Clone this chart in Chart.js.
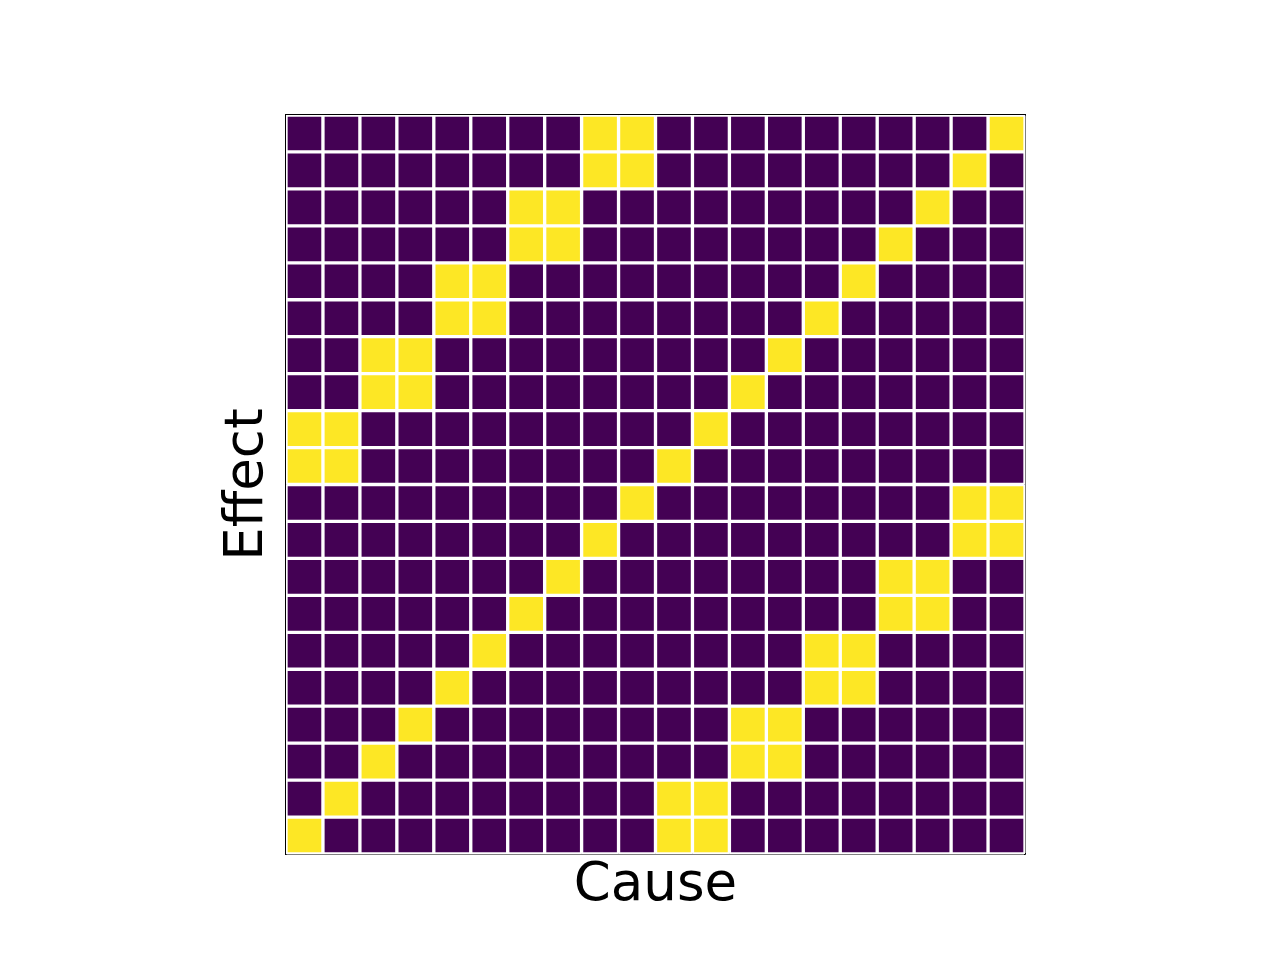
<!DOCTYPE html>
<html>
<head>
<meta charset="utf-8">
<title>Cause / Effect matrix</title>
<script src="https://cdn.jsdelivr.net/npm/chart.js@4/dist/chart.umd.min.js"></script>
<style>
  html, body { margin: 0; padding: 0; background: #ffffff; }
  #wrap { width: 1280px; height: 960px; }
</style>
</head>
<body>
<div id="wrap"><canvas id="chart-matrix" width="1280" height="960"></canvas></div>
<script>
/* ── Data ── */
const causeLabels  = ["c0", "c1", "c2", "c3", "c4", "c5", "c6", "c7", "c8", "c9",
                      "c10", "c11", "c12", "c13", "c14", "c15", "c16", "c17", "c18", "c19"];
const effectLabels = ["e0", "e1", "e2", "e3", "e4", "e5", "e6", "e7", "e8", "e9",
                      "e10", "e11", "e12", "e13", "e14", "e15", "e16", "e17", "e18", "e19"];

// one row per effect (top to bottom), one entry per cause (left to right)
const matrix = [
  [0,0,0,0,0,0,0,0,1,1,0,0,0,0,0,0,0,0,0,1],
  [0,0,0,0,0,0,0,0,1,1,0,0,0,0,0,0,0,0,1,0],
  [0,0,0,0,0,0,1,1,0,0,0,0,0,0,0,0,0,1,0,0],
  [0,0,0,0,0,0,1,1,0,0,0,0,0,0,0,0,1,0,0,0],
  [0,0,0,0,1,1,0,0,0,0,0,0,0,0,0,1,0,0,0,0],
  [0,0,0,0,1,1,0,0,0,0,0,0,0,0,1,0,0,0,0,0],
  [0,0,1,1,0,0,0,0,0,0,0,0,0,1,0,0,0,0,0,0],
  [0,0,1,1,0,0,0,0,0,0,0,0,1,0,0,0,0,0,0,0],
  [1,1,0,0,0,0,0,0,0,0,0,1,0,0,0,0,0,0,0,0],
  [1,1,0,0,0,0,0,0,0,0,1,0,0,0,0,0,0,0,0,0],
  [0,0,0,0,0,0,0,0,0,1,0,0,0,0,0,0,0,0,1,1],
  [0,0,0,0,0,0,0,0,1,0,0,0,0,0,0,0,0,0,1,1],
  [0,0,0,0,0,0,0,1,0,0,0,0,0,0,0,0,1,1,0,0],
  [0,0,0,0,0,0,1,0,0,0,0,0,0,0,0,0,1,1,0,0],
  [0,0,0,0,0,1,0,0,0,0,0,0,0,0,1,1,0,0,0,0],
  [0,0,0,0,1,0,0,0,0,0,0,0,0,0,1,1,0,0,0,0],
  [0,0,0,1,0,0,0,0,0,0,0,0,1,1,0,0,0,0,0,0],
  [0,0,1,0,0,0,0,0,0,0,0,0,1,1,0,0,0,0,0,0],
  [0,1,0,0,0,0,0,0,0,0,1,1,0,0,0,0,0,0,0,0],
  [1,0,0,0,0,0,0,0,0,0,1,1,0,0,0,0,0,0,0,0],
];

/* ── Colours (viridis ends) ── */
const COLORS = {
  low:   "#440154",
  high:  "#fde725",
  gap:   "#ffffff",
  frame: "#000000",
  text:  "#000000",
};

/* ── Layout: matplotlib axes box ── */
const AXES = { left: 286, right: 1025, top: 115, bottom: 854 };
const W = 1280, H = 960;
const FONT = "'DejaVu Sans', sans-serif";

/* ── One floating-bar dataset per effect row ── */
const datasets = matrix.map((row, r) => ({
  label:           effectLabels[r],
  data:            row.map(() => [r, r + 1]),
  backgroundColor: row.map(v => (v ? COLORS.high : COLORS.low)),
  borderColor:     COLORS.gap,
  borderWidth:     2,
  borderSkipped:   false,
  grouped:         false,
  barPercentage:      1,
  categoryPercentage: 1,
}));

function frameAxis(position, size, extra) {
  return Object.assign({
    position,
    display: true,
    grid:   { display: false, drawTicks: false },
    ticks:  { display: false },
    border: { display: true, color: COLORS.frame, width: 1.5 },
    afterFit: scale => {
      if (scale.isHorizontal()) scale.height = size;
      else scale.width = size;
    },
  }, extra);
}

new Chart(document.getElementById("chart-matrix").getContext("2d"), {
  type: "bar",
  data: { labels: causeLabels, datasets },
  options: {
    responsive: false,
    animation: false,
    layout: { padding: 0 },
    plugins: {
      legend:  { display: false },
      tooltip: { enabled: false },
    },
    scales: {
      x: frameAxis("bottom", H - AXES.bottom, {
        type: "category",
        title: {
          display: true, text: "Cause", color: COLORS.text,
          font: { family: FONT, size: 53, lineHeight: 1 },
          padding: { top: 0, bottom: 47 },
        },
      }),
      y: frameAxis("left", AXES.left, {
        type: "linear", min: 0, max: effectLabels.length, reverse: true,
        title: {
          display: true, text: "Effect", color: COLORS.text,
          font: { family: FONT, size: 53, lineHeight: 1 },
          padding: { top: 222, bottom: 0 },
        },
      }),
      xTop:   frameAxis("top", AXES.top, { type: "category" }),
      yRight: frameAxis("right", W - AXES.right, { type: "linear", min: 0, max: 1 }),
    },
  },
});
</script>
</body>
</html>
